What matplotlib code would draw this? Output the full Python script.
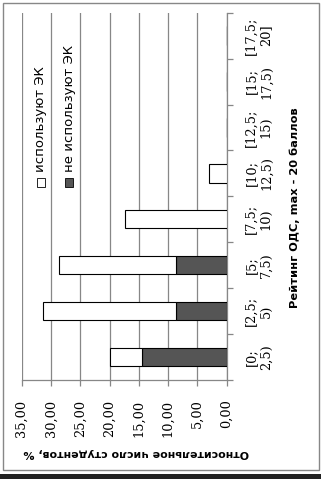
import numpy as np
import matplotlib.pyplot as plt
from matplotlib.patches import Rectangle

# rating bins (ODS score, max 20)
categories = ['[0;\n2,5)', '[2,5;\n5)', '[5;\n7,5)', '[7,5;\n10)',
              '[10;\n12,5)', '[12,5;\n15)', '[15;\n17,5)', '[17,5;\n20]']
# share of students, %
not_using = [14.4, 8.7, 8.7, 0.0, 0.0, 0.0, 0.0, 0.0]
using = [5.6, 22.7, 19.9, 17.4, 3.0, 0.0, 0.0, 0.0]
value_ticks = [0, 5, 10, 15, 20, 25, 30, 35]

dark = '#555555'
grid_col = '#878787'
serif = 'DejaVu Serif'
sans = 'DejaVu Sans'

fig = plt.figure(figsize=(3.21, 4.79), dpi=100)
ax = fig.add_axes([0.0676, 0.2067, 0.6386, 0.7668])

y = np.arange(len(categories))
ax.barh(y, not_using, height=0.4, color=dark, edgecolor='black', linewidth=0.8, zorder=3)
ax.barh(y, using, left=not_using, height=0.4, color='white', edgecolor='black', linewidth=0.8, zorder=3)

# chart is turned by 90 degrees: values grow to the left
ax.set_xlim(35, 0)
ax.set_ylim(-0.5, len(categories) - 0.5)
ax.set_xticks(value_ticks)
ax.set_xticklabels([f'{v:.2f}'.replace('.', ',') for v in value_ticks],
                   rotation=90, family=serif, fontsize=9.3)
ax.grid(axis='x', color=grid_col, linewidth=0.9, zorder=0)

ax.yaxis.tick_right()
ax.set_yticks(y)
ax.set_yticklabels(categories, rotation=90, family=serif, fontsize=9.3)
for lbl in ax.get_yticklabels():
    lbl.set_multialignment('center')
    lbl.set_verticalalignment('center')
ax.set_yticks(np.arange(-0.5, len(categories)), minor=True)
ax.tick_params(axis='y', which='major', length=0, pad=13)
ax.tick_params(axis='y', which='minor', length=4, color=grid_col, width=0.9)
ax.tick_params(axis='x', length=4, color=grid_col, width=0.9, pad=10)

for s in ['top', 'left']:
    ax.spines[s].set_visible(False)
for s in ['right', 'bottom']:
    ax.spines[s].set_color(grid_col)
    ax.spines[s].set_linewidth(0.9)

# axis titles
fig.text(136 / 321, 1 - 453 / 479, 'Относительное число студентов, %', rotation=180,
         ha='center', va='center', family=sans, fontweight='bold', fontsize=7.9)
fig.text(295 / 321, 1 - 208 / 479, 'Рейтинг ОДС, max - 20 баллов', rotation=90,
         ha='center', va='center', family=sans, fontweight='bold', fontsize=8.2)

# legend, turned like the rest
leg_items = [('используют ЭК', 'white', 41), ('не используют ЭК', dark, 69)]
for label, col, xp in leg_items:
    fig.patches.append(Rectangle(((xp - 4) / 321, 1 - 187 / 479), 8 / 321, 9 / 479,
                                 transform=fig.transFigure, facecolor=col,
                                 edgecolor='black', linewidth=0.6))
    fig.text(xp / 321, 1 - 172 / 479, label, rotation=90, ha='center', va='bottom',
             family=sans, fontsize=9.5)

# outer frame
fig.patches.append(Rectangle((3 / 321, 1 - 470 / 479), 316 / 321, 467 / 479,
                             transform=fig.transFigure, fill=False,
                             edgecolor=grid_col, linewidth=1.0))
fig.patches.append(Rectangle((0, 0), 1, 5 / 479, transform=fig.transFigure,
                             facecolor='#222222', edgecolor='none'))

fig.savefig('out.png', dpi=100)
